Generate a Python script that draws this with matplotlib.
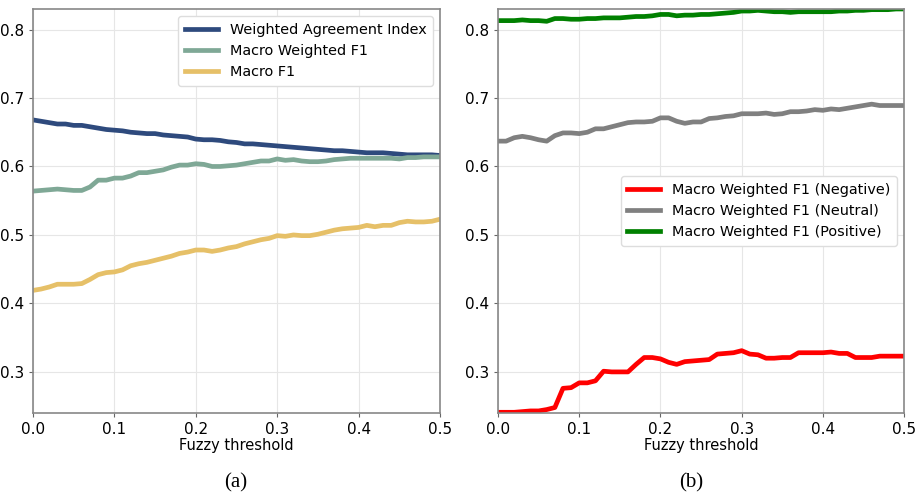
import numpy as np
import matplotlib
matplotlib.use("Agg")
import matplotlib.pyplot as plt

thresholds = [round(i * 0.01, 2) for i in range(51)]

wai = [0.668, 0.666, 0.664, 0.662, 0.662, 0.660, 0.660, 0.658, 0.656, 0.654,
       0.653, 0.652, 0.650, 0.649, 0.648, 0.648, 0.646, 0.645, 0.644, 0.643,
       0.640, 0.639, 0.639, 0.638, 0.636, 0.635, 0.633, 0.633, 0.632, 0.631,
       0.630, 0.629, 0.628, 0.627, 0.626, 0.625, 0.624, 0.623, 0.623, 0.622,
       0.621, 0.620, 0.620, 0.620, 0.619, 0.618, 0.617, 0.617, 0.617, 0.617,
       0.616]

macro_weighted_f1 = [0.564, 0.565, 0.566, 0.567, 0.566, 0.565, 0.565, 0.570, 0.580, 0.580,
                     0.583, 0.583, 0.586, 0.591, 0.591, 0.593, 0.595, 0.599, 0.602, 0.602,
                     0.604, 0.603, 0.600, 0.600, 0.601, 0.602, 0.604, 0.606, 0.608, 0.608,
                     0.611, 0.609, 0.610, 0.608, 0.607, 0.607, 0.608, 0.610, 0.611, 0.612,
                     0.612, 0.612, 0.612, 0.612, 0.612, 0.611, 0.613, 0.613, 0.614, 0.614,
                     0.614]

macro_f1 = [0.419, 0.421, 0.424, 0.428, 0.428, 0.428, 0.429, 0.435, 0.442, 0.445,
            0.446, 0.449, 0.455, 0.458, 0.460, 0.463, 0.466, 0.469, 0.473, 0.475,
            0.478, 0.478, 0.476, 0.478, 0.481, 0.483, 0.487, 0.490, 0.493, 0.495,
            0.499, 0.498, 0.500, 0.499, 0.499, 0.501, 0.504, 0.507, 0.509, 0.510,
            0.511, 0.514, 0.512, 0.514, 0.514, 0.518, 0.520, 0.519, 0.519, 0.520,
            0.523]

f1_negative = [0.241, 0.241, 0.241, 0.242, 0.243, 0.243, 0.245, 0.248, 0.276, 0.277,
               0.284, 0.284, 0.287, 0.301, 0.300, 0.300, 0.300, 0.311, 0.321, 0.321,
               0.319, 0.314, 0.311, 0.315, 0.316, 0.317, 0.318, 0.326, 0.327, 0.328,
               0.331, 0.326, 0.325, 0.320, 0.320, 0.321, 0.321, 0.328, 0.328, 0.328,
               0.328, 0.329, 0.327, 0.327, 0.321, 0.321, 0.321, 0.323, 0.323, 0.323,
               0.323]

f1_neutral = [0.637, 0.637, 0.642, 0.644, 0.642, 0.639, 0.637, 0.645, 0.649, 0.649,
              0.648, 0.650, 0.655, 0.655, 0.658, 0.661, 0.664, 0.665, 0.665, 0.666,
              0.671, 0.671, 0.666, 0.663, 0.665, 0.665, 0.670, 0.671, 0.673, 0.674,
              0.677, 0.677, 0.677, 0.678, 0.676, 0.677, 0.680, 0.680, 0.681, 0.683,
              0.682, 0.684, 0.683, 0.685, 0.687, 0.689, 0.691, 0.689, 0.689, 0.689,
              0.689]

f1_positive = [0.813, 0.813, 0.813, 0.814, 0.813, 0.813, 0.812, 0.816, 0.816, 0.815,
               0.815, 0.816, 0.816, 0.817, 0.817, 0.817, 0.818, 0.819, 0.819, 0.820,
               0.822, 0.822, 0.820, 0.821, 0.821, 0.822, 0.822, 0.823, 0.824, 0.825,
               0.827, 0.827, 0.828, 0.827, 0.826, 0.826, 0.825, 0.826, 0.826, 0.826,
               0.826, 0.826, 0.827, 0.827, 0.828, 0.828, 0.829, 0.829, 0.829, 0.830,
               0.830]

left_labels = ["Weighted Agreement Index", "Macro Weighted F1", "Macro F1"]
right_labels = ["Macro Weighted F1 (Negative)", "Macro Weighted F1 (Neutral)",
                "Macro Weighted F1 (Positive)"]
xticks = [0.0, 0.1, 0.2, 0.3, 0.4, 0.5]
yticks = [0.3, 0.4, 0.5, 0.6, 0.7, 0.8]

fig = plt.figure(figsize=(9.21, 4.93), dpi=100)
ax1 = fig.add_axes([0.0358, 0.1623, 0.442, 0.8195])
ax2 = fig.add_axes([0.5407, 0.1623, 0.441, 0.8195])

lw = 3.4
ax1.plot(thresholds, wai, color="#2e4a7d", lw=lw, label=left_labels[0])
ax1.plot(thresholds, macro_weighted_f1, color="#7fa896", lw=lw, label=left_labels[1])
ax1.plot(thresholds, macro_f1, color="#e6c068", lw=lw, label=left_labels[2])

ax2.plot(thresholds, f1_negative, color="red", lw=lw, label=right_labels[0])
ax2.plot(thresholds, f1_neutral, color="grey", lw=lw, label=right_labels[1])
ax2.plot(thresholds, f1_positive, color="green", lw=lw, label=right_labels[2])

for ax in (ax1, ax2):
    ax.set_xlim(0, 0.5)
    ax.set_ylim(0.24, 0.83)
    ax.set_xticks(xticks)
    ax.set_yticks(yticks)
    ax.grid(True, color="#e6e6e6", lw=0.8)
    ax.set_axisbelow(True)
    ax.tick_params(labelsize=11, color="#666666", length=3)
    for s in ax.spines.values():
        s.set_color("#888888")
        s.set_linewidth(1.2)
    ax.set_xlabel("Fuzzy threshold", fontsize=10.5, labelpad=1)

leg_kw = dict(fontsize=10.4, handlelength=2.3, framealpha=1,
              edgecolor="#dddddd", borderpad=0.45, labelspacing=0.5)
ax1.legend(loc="upper right", **leg_kw)
ax2.legend(loc="center right", bbox_to_anchor=(1.0, 0.5), **leg_kw)

fig.text(0.256, 0.021, "(a)", ha="center", va="center", fontsize=15,
         family="Liberation Serif")
fig.text(0.751, 0.021, "(b)", ha="center", va="center", fontsize=15,
         family="Liberation Serif")

fig.savefig("out.png", dpi=100)
